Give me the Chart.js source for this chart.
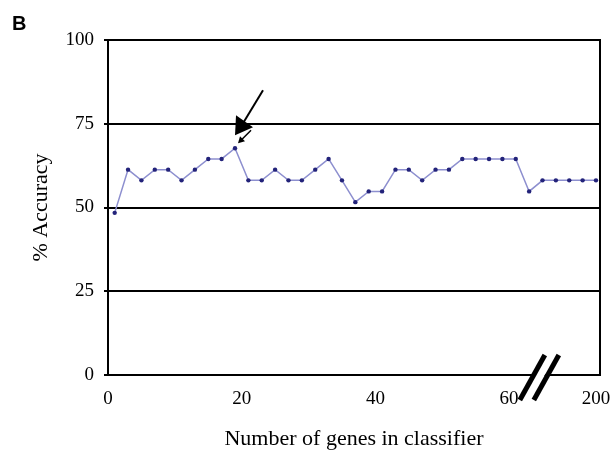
<!DOCTYPE html>
<html>
<head>
<meta charset="utf-8">
<script src="https://cdn.jsdelivr.net/npm/chart.js@4/dist/chart.umd.min.js"></script>
<style>
  html, body { margin: 0; padding: 0; background: #fff; }
  #wrap { width: 616px; height: 450px; }
</style>
</head>
<body>
<div id="wrap"><canvas id="accChart" width="616" height="450"></canvas></div>
<script>
// ----------- Data -----------------
// x positions on the broken axis (after 61 the axis jumps to 200)
const genes = [1, 3, 5, 7, 9, 11, 13, 15, 17, 19, 21, 23, 25, 27, 29, 31, 33, 35, 37, 39,
               41, 43, 45, 47, 49, 51, 53, 55, 57, 59, 61, 63, 65, 67, 69, 71, 73];
const accuracy = [48.4, 61.3, 58.1, 61.3, 61.3, 58.1, 61.3, 64.5, 64.5, 67.7,
                  58.1, 58.1, 61.3, 58.1, 58.1, 61.3, 64.5, 58.1, 51.6, 54.8,
                  54.8, 61.3, 61.3, 58.1, 61.3, 61.3, 64.5, 64.5, 64.5, 64.5,
                  64.5, 54.8, 58.1, 58.1, 58.1, 58.1, 58.1];
const xTickValues = [0, 20, 40, 60, 73];
const xTickLabels = ['0', '20', '40', '60', '200'];
const yTicks = [0, 25, 50, 75, 100];
const bestGenes = 19;   // arrow points here
const breakAt = 64.6;   // axis break mark

const serif = "'Liberation Serif', 'Times New Roman', serif";

// ----------- Extras: arrow + axis break -----------------
const extras = {
    id: 'extras',
    afterDraw(chart) {
        const ctx = chart.ctx;
        const xs = chart.scales.x, ys = chart.scales.y;
        const i = genes.indexOf(bestGenes);
        const px = xs.getPixelForValue(genes[i]);
        const py = ys.getPixelForValue(accuracy[i]);

        ctx.save();
        ctx.fillStyle = '#000';
        ctx.strokeStyle = '#000';
        // big arrow
        ctx.lineWidth = 2;
        ctx.beginPath();
        ctx.moveTo(px + 28, py - 58);
        ctx.lineTo(px + 8, py - 25);
        ctx.stroke();
        ctx.beginPath();
        ctx.moveTo(px, py - 13);
        ctx.lineTo(px + 1, py - 33);
        ctx.lineTo(px + 18, py - 21);
        ctx.closePath();
        ctx.fill();
        // small arrow
        ctx.lineWidth = 1.5;
        ctx.beginPath();
        ctx.moveTo(px + 16, py - 18);
        ctx.lineTo(px + 6, py - 8);
        ctx.stroke();
        ctx.beginPath();
        ctx.moveTo(px + 3, py - 5);
        ctx.lineTo(px + 5, py - 12);
        ctx.lineTo(px + 10, py - 7);
        ctx.closePath();
        ctx.fill();

        // axis break
        const bx = xs.getPixelForValue(breakAt);
        const by = ys.getPixelForValue(0);
        ctx.fillStyle = '#fff';
        ctx.beginPath();
        ctx.moveTo(bx - 17, by + 23);
        ctx.lineTo(bx + 7, by - 23);
        ctx.lineTo(bx + 17, by - 23);
        ctx.lineTo(bx - 7, by + 23);
        ctx.closePath();
        ctx.fill();
        ctx.lineWidth = 5;
        ctx.lineCap = 'butt';
        [-7, 7].forEach(d => {
            ctx.beginPath();
            ctx.moveTo(bx + d - 13, by + 25);
            ctx.lineTo(bx + d + 12, by - 20);
            ctx.stroke();
        });
        ctx.restore();
    }
};

new Chart(document.getElementById('accChart'), {
    type: 'line',
    data: {
        datasets: [{
            data: genes.map((g, i) => ({ x: g, y: accuracy[i] })),
            borderColor: '#8d8fcf',
            borderWidth: 1.5,
            pointBackgroundColor: '#23237a',
            pointBorderColor: '#23237a',
            pointRadius: 2.2,
            pointBorderWidth: 0,
            tension: 0,
            clip: false
        }]
    },
    options: {
        responsive: false,
        animation: false,
        layout: { padding: { left: 12, right: 16, top: 0, bottom: 0 } },
        plugins: {
            legend: { display: false },
            tooltip: { enabled: false },
            title: {
                display: true,
                text: 'B',
                align: 'start',
                color: '#000',
                font: { family: "'Liberation Sans', Arial, sans-serif", size: 20, weight: 'bold', lineHeight: 1.2 },
                padding: { top: 12, bottom: 4 }
            }
        },
        scales: {
            x: {
                type: 'linear',
                min: 0,
                max: 73.6,
                afterBuildTicks: s => { s.ticks = xTickValues.map(v => ({ value: v })); },
                afterFit: s => { s.height = 75; },
                ticks: {
                    autoSkip: false,
                    maxRotation: 0,
                    padding: 5,
                    color: '#000',
                    font: { family: serif, size: 19 },
                    callback: v => xTickLabels[xTickValues.indexOf(v)]
                },
                grid: { display: false },
                border: { display: true, color: '#000', width: 2 },
                title: {
                    display: true,
                    text: 'Number of genes in classifier',
                    color: '#000',
                    font: { family: serif, size: 22, lineHeight: 1 },
                    padding: { top: 0, bottom: 0 }
                }
            },
            y: {
                min: 0,
                max: 100,
                afterBuildTicks: s => { s.ticks = yTicks.map(v => ({ value: v })); },
                afterFit: s => { s.width = 96; },
                ticks: {
                    padding: 10,
                    color: '#000',
                    font: { family: serif, size: 19 }
                },
                grid: { color: '#000', lineWidth: 2, tickLength: 4, drawTicks: true },
                border: { display: true, color: '#000', width: 2 },
                title: {
                    display: true,
                    text: '% Accuracy',
                    color: '#000',
                    font: { family: serif, size: 22, lineHeight: 1 },
                    padding: { top: 18, bottom: 0 }
                }
            },
            y2: {
                position: 'right',
                min: 0,
                max: 100,
                afterFit: s => { s.width = 0; },
                ticks: { display: false },
                grid: { display: false },
                border: { display: true, color: '#000', width: 2 }
            }
        }
    },
    plugins: [extras]
});
</script>
</body>
</html>
